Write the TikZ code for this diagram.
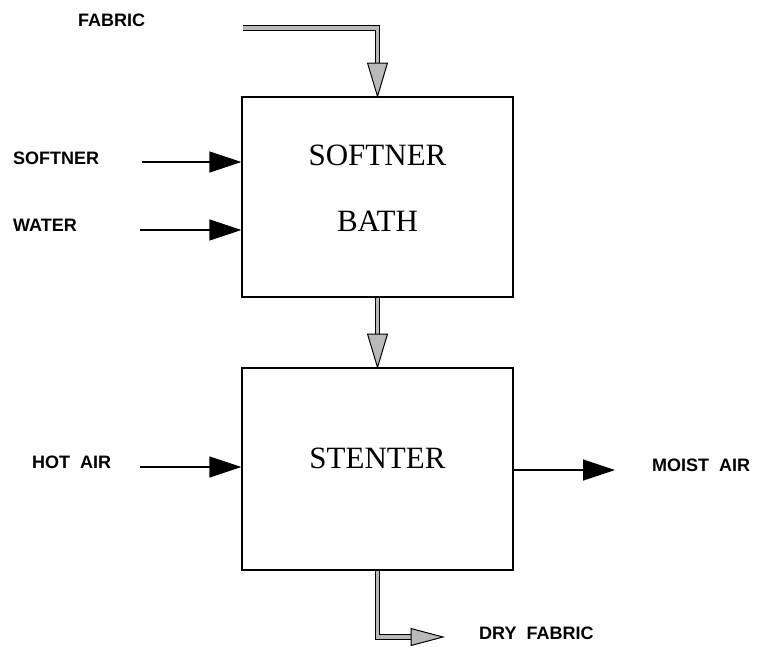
\documentclass[tikz,border=0pt]{standalone}
\usepackage{fontspec}
\setmainfont{Liberation Serif}
\newfontfamily\lblfont{Liberation Sans}
\usetikzlibrary{arrows.meta,calc}
\tikzset{
  procbox/.style={draw, line width=1.3pt, minimum width=271pt, inner sep=0pt},
  boxtext/.style={inner sep=0pt, font=\fontsize{31}{31}\selectfont},
  lbl/.style={inner sep=0pt, anchor=west, font=\lblfont\bfseries\fontsize{18}{18}\selectfont},
  flow/.style={line width=1.3pt, -{Triangle[length=32pt,width=21pt]}},
  grayshaft/.style={line width=1pt, double=gray!55, double distance=3.5pt, line join=miter},
  grayhead/.style={fill=gray!55, draw=black, line width=1pt, line join=miter}
}
\begin{document}
\begin{tikzpicture}[x=1pt,y=-1pt]
\useasboundingbox (0,0) rectangle (759,646);
% boxes
\node[procbox, minimum height=200pt] (sb) at (377.5,197) {};
\node[procbox, minimum height=202pt] (st) at (377.5,469) {};
\node[boxtext] (t1) at (377.5,155) {SOFTNER};
\node[boxtext] (t2) at (377.5,221) {BATH};
\node[boxtext] (t3) at (377.5,458) {STENTER};
% labels
\node[lbl] (fab) at (78,20) {FABRIC};
\node[lbl] (sof) at (13,158) {SOFTNER};
\node[lbl] (wat) at (13,225) {WATER};
\node[lbl] (hot) at (32,462) {HOT\ \ AIR};
\node[lbl] (moi) at (652,465) {MOIST\ \ AIR};
\node[lbl] (dry) at (479,633) {DRY\ \ FABRIC};
% coordinates
\coordinate (f0) at (243,28);
\coordinate (f1) at (377.5,28);
\coordinate (f2) at (377.5,63);
\coordinate (m2) at (377.5,334);
\coordinate (d1) at (377.5,637);
\coordinate (d2) at (411,637);
\coordinate (d3) at (443,637);
\coordinate (s0) at (142,162);
\coordinate (w0) at (140,230);
\coordinate (h0) at (140,467);
\coordinate (o1) at (615,470);
% black flows
\draw[flow] (s0) -- (s0 -| sb.west);
\draw[flow] (w0) -- (w0 -| sb.west);
\draw[flow] (h0) -- (h0 -| st.west);
\draw[flow] (o1 -| st.east) -- (o1);
% gray fabric flows
\draw[grayshaft] (f0) -- (f1) -- (f2);
\draw[grayhead] ($(f2)+(-10,0)$) -- ($(f2)+(10,0)$) -- (sb.north) -- cycle;
\draw[grayshaft] (sb.south) -- (m2);
\draw[grayhead] ($(m2)+(-10,0)$) -- ($(m2)+(10,0)$) -- (st.north) -- cycle;
\draw[grayshaft] (st.south) -- (d1) -- (d2);
\draw[grayhead] ($(d2)+(0,-8.5)$) -- ($(d2)+(0,8.5)$) -- (d3) -- cycle;
\end{tikzpicture}
\end{document}
